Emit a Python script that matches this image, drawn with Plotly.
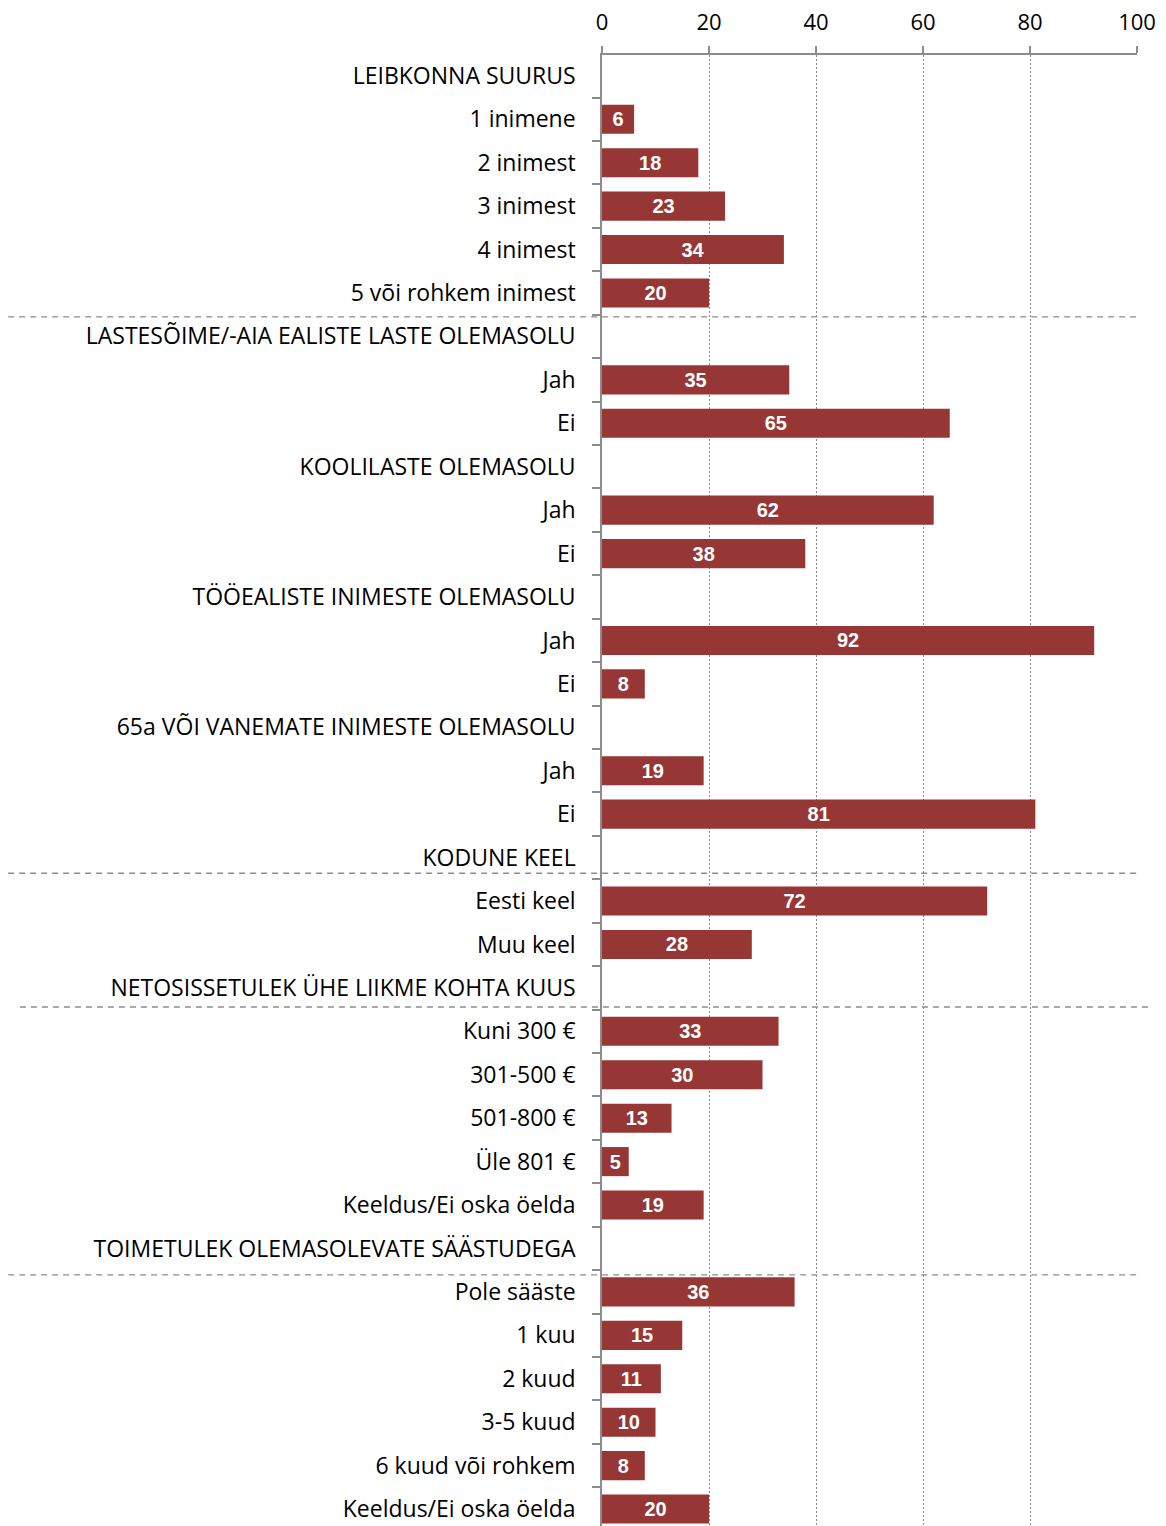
import plotly.graph_objects as go

labels = [
    "LEIBKONNA SUURUS", "1 inimene", "2 inimest", "3 inimest", "4 inimest", "5 või rohkem inimest",
    "LASTESÕIME/-AIA EALISTE LASTE OLEMASOLU", "Jah", "Ei",
    "KOOLILASTE OLEMASOLU", "Jah", "Ei",
    "TÖÖEALISTE INIMESTE OLEMASOLU", "Jah", "Ei",
    "65a VÕI VANEMATE INIMESTE OLEMASOLU", "Jah", "Ei",
    "KODUNE KEEL", "Eesti keel", "Muu keel",
    "NETOSISSETULEK ÜHE LIIKME KOHTA KUUS", "Kuni 300 €", "301-500 €", "501-800 €", "Üle 801 €",
    "Keeldus/Ei oska öelda",
    "TOIMETULEK OLEMASOLEVATE SÄÄSTUDEGA", "Pole sääste", "1 kuu", "2 kuud", "3-5 kuud",
    "6 kuud või rohkem", "Keeldus/Ei oska öelda",
]
values = [
    None, 6, 18, 23, 34, 20,
    None, 35, 65,
    None, 62, 38,
    None, 92, 8,
    None, 19, 81,
    None, 72, 28,
    None, 33, 30, 13, 5, 19,
    None, 36, 15, 11, 10, 8, 20,
]
x_ticks = [0, 20, 40, 60, 80, 100]
# separators drawn after these rows (row units)
separators = [5.55, 18.36, 21.44, 27.61]

rows = list(range(len(labels)))
bar_text = ["" if v is None else str(v) for v in values]

font_lbl = "'Open Sans', sans-serif"
grey = "#8c8c8c"
y_lo, y_hi = 33.39, -0.48

fig = go.Figure()
fig.add_trace(go.Bar(
    x=values, y=rows, orientation="h", width=0.67,
    marker=dict(color="#963735", line=dict(width=0)),
    text=bar_text, textposition="inside", insidetextanchor="middle",
    textfont=dict(family="Liberation Sans, Arial", size=20, color="white", weight="bold"),
    hoverinfo="skip",
))

for s in separators:
    yp = (y_lo - s) / (y_lo - y_hi)
    x0, x1 = (-1.088, 1.0206) if s == 21.44 else (-1.11, 1.0)
    fig.add_shape(type="line", xref="paper", yref="paper", x0=x0, x1=x1, y0=yp, y1=yp,
                  line=dict(color=grey, width=1.3, dash="6px,5px"))

fig.update_layout(
    width=1166, height=1526,
    margin=dict(l=602, r=29, t=55, b=0),
    plot_bgcolor="white", paper_bgcolor="white",
    showlegend=False,
    uniformtext=dict(minsize=20, mode="show"),
    xaxis=dict(
        side="top", range=[0, 100], tickvals=x_ticks, automargin=False,
        showline=True, linecolor=grey, linewidth=1.5,
        ticks="outside", ticklen=7, tickcolor=grey, tickwidth=1.5,
        ticklabelstandoff=7,
        showgrid=True, gridcolor="#8a8a8a", griddash="2px,2px", gridwidth=1.3,
        zeroline=False,
        tickfont=dict(family=font_lbl, size=22, color="black"),
    ),
    yaxis=dict(
        range=[y_lo, y_hi], tickvals=rows, ticktext=labels, automargin=False,
        showline=True, linecolor=grey, linewidth=1.5,
        ticks="", ticklabelstandoff=20,
        minor=dict(tick0=0.5, dtick=1, ticks="outside", ticklen=8, tickcolor=grey,
                   tickwidth=1.5, showgrid=False),
        showgrid=False, zeroline=False,
        tickfont=dict(family=font_lbl, size=23, color="black"),
    ),
)

# drop the browser's default 8px body margin so the figure fills the window
fig.write_html("out.html", config={"displayModeBar": False},
               post_script="document.body.style.margin='0';")
